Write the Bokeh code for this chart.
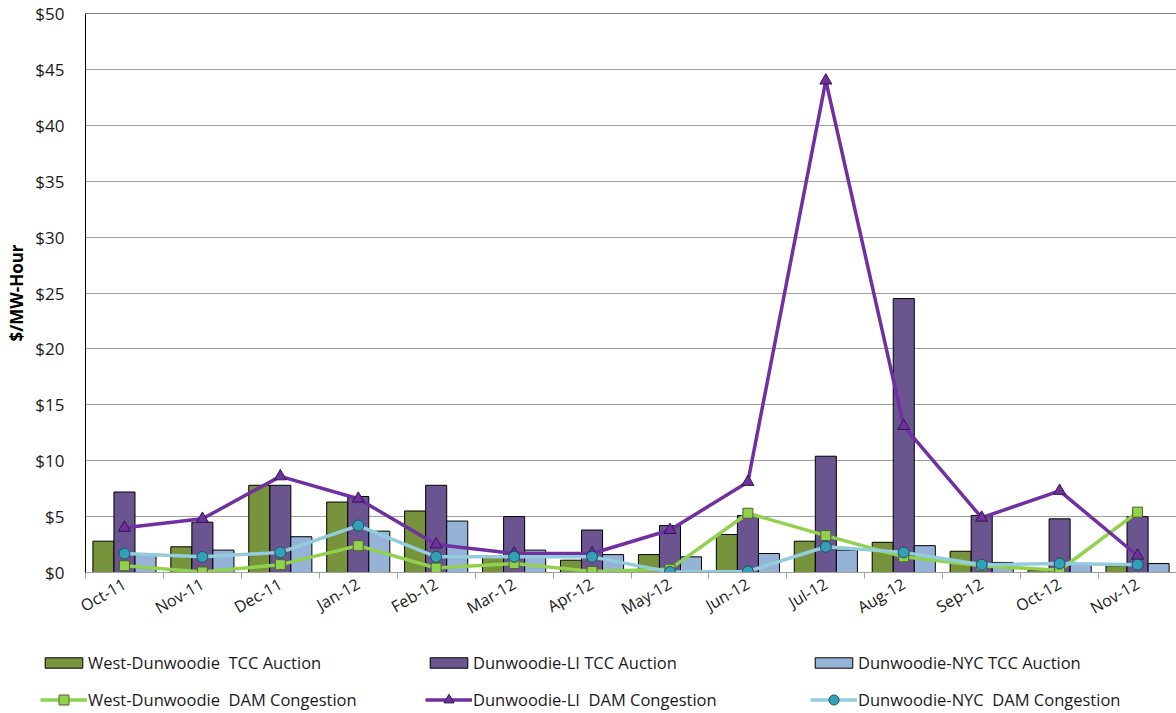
import math
import numpy as np
from bokeh.plotting import figure
from bokeh.models import (ColumnDataSource, FixedTicker, Legend, LegendItem,
                          Span, NumeralTickFormatter)
from bokeh.transform import dodge
from bokeh.embed import file_html
from bokeh.resources import INLINE

# ---- data ----
months = ["Oct-11", "Nov-11", "Dec-11", "Jan-12", "Feb-12", "Mar-12", "Apr-12",
          "May-12", "Jun-12", "Jul-12", "Aug-12", "Sep-12", "Oct-12", "Nov-12"]
west_tcc = [2.8, 2.3, 7.8, 6.3, 5.5, 1.5, 1.1, 1.6, 3.4, 2.8, 2.7, 1.9, 0.2, 0.6]
li_tcc = [7.2, 4.5, 7.8, 6.8, 7.8, 5.0, 3.8, 4.2, 5.1, 10.4, 24.5, 5.1, 4.8, 5.0]
nyc_tcc = [1.6, 2.0, 3.2, 3.7, 4.6, 2.0, 1.6, 1.4, 1.7, 2.0, 2.4, 0.9, 0.8, 0.8]
west_dam = [0.6, 0.05, 0.7, 2.4, 0.4, 0.8, 0.1, 0.3, 5.3, 3.3, 1.4, 0.6, 0.2, 5.4]
li_dam = [4.0, 4.8, 8.6, 6.6, 2.5, 1.7, 1.7, 3.8, 8.1, 44.0, 13.1, 4.9, 7.3, 1.5]
nyc_dam = [1.7, 1.4, 1.8, 4.2, 1.4, 1.4, 1.4, 0.05, 0.1, 2.3, 1.8, 0.7, 0.8, 0.7]
y_ticks = list(range(0, 51, 5))

bar_labels = ["West-Dunwoodie  TCC Auction", "Dunwoodie-LI TCC Auction",
              "Dunwoodie-NYC TCC Auction"]
line_labels = ["West-Dunwoodie  DAM Congestion", "Dunwoodie-LI  DAM Congestion",
               "Dunwoodie-NYC  DAM Congestion"]

x = np.arange(len(months)) + 0.5
src = ColumnDataSource(dict(x=x, west_tcc=west_tcc, li_tcc=li_tcc, nyc_tcc=nyc_tcc,
                            west_dam=west_dam, li_dam=li_dam, nyc_dam=nyc_dam))

FONT = "Open Sans"
C_GREEN_BAR, C_PURPLE_BAR, C_BLUE_BAR = "#77933C", "#6B5591", "#95B3D7"
C_GREEN_LINE, C_PURPLE_LINE, C_CYAN_LINE = "#92D050", "#7030A0", "#93CDDD"

FRAME_W = 1091
p = figure(frame_width=FRAME_W, frame_height=559,
           x_range=(0, FRAME_W / 77.93), y_range=(0, 50),
           output_backend="svg", toolbar_location=None,
           min_border_left=85, min_border_right=0, min_border_top=13,
           min_border_bottom=68)
p.outline_line_color = None
p.background_fill_color = "white"
p.border_fill_color = "white"

# grid
p.xgrid.grid_line_color = None
p.ygrid.grid_line_color = "#A0A0A0"
p.ygrid.grid_line_width = 1
p.add_layout(Span(location=50, dimension="width", line_color="black", line_width=1.2))

# y axis
p.yaxis.ticker = FixedTicker(ticks=y_ticks)
p.yaxis.formatter = NumeralTickFormatter(format="$0")
p.yaxis.major_tick_line_color = None
p.yaxis.major_tick_out = 0
p.yaxis.major_tick_in = 0
p.yaxis.minor_tick_line_color = None
p.yaxis.minor_tick_out = 0
p.yaxis.axis_line_color = "black"
p.yaxis.major_label_standoff = 21
p.yaxis.major_label_text_font = FONT
p.yaxis.major_label_text_font_size = "17px"
p.yaxis.major_label_text_color = "#1a1a1a"
p.yaxis.axis_label = "$/MW-Hour"
p.yaxis.axis_label_text_font = FONT
p.yaxis.axis_label_text_font_style = "bold"
p.yaxis.axis_label_text_font_size = "17px"
p.yaxis.axis_label_text_color = "black"
p.yaxis.axis_label_standoff = 4

# x axis
p.xaxis.ticker = FixedTicker(ticks=list(x), minor_ticks=list(range(len(months) + 1)))
p.xaxis.major_label_overrides = {float(v): m for v, m in zip(x, months)}
p.xaxis.major_tick_line_color = None
p.xaxis.major_tick_out = 0
p.xaxis.major_tick_in = 0
p.xaxis.minor_tick_line_color = "#A0A0A0"
p.xaxis.minor_tick_out = 6
p.xaxis.minor_tick_in = 0
p.xaxis.axis_line_color = "#A0A0A0"
p.xaxis.major_label_orientation = math.pi / 6
p.xaxis.major_label_standoff = 4
p.xaxis.major_label_text_font = FONT
p.xaxis.major_label_text_font_size = "16px"
p.xaxis.major_label_text_color = "#1a1a1a"

# bars
bw = 0.27
bar_specs = [("west_tcc", -bw, C_GREEN_BAR), ("li_tcc", 0, C_PURPLE_BAR),
             ("nyc_tcc", bw, C_BLUE_BAR)]
for col, off, color in bar_specs:
    p.vbar(x=dodge("x", off, range=p.x_range), top=col, width=bw, source=src,
           fill_color=color, line_color="black", line_width=1)

# lines
line_specs = [("west_dam", C_GREEN_LINE, "square", 10, C_GREEN_LINE, "#4F6228"),
              ("li_dam", C_PURPLE_LINE, "triangle", 12, C_PURPLE_LINE, "#2E1A47"),
              ("nyc_dam", C_CYAN_LINE, "circle", 11, "#31A0B8", "#1F4F5C")]
for col, lc, mk, sz, fc, ec in line_specs:
    p.line("x", col, source=src, line_color=lc, line_width=3.5)
    p.scatter("x", col, source=src, marker=mk, size=sz, fill_color=fc,
              line_color=ec, line_width=1)

# ---- legend panel (separate figure below the chart) ----
LG_H = 73
lg = figure(width=1176, height=LG_H, x_range=(0, 1), y_range=(0, 1),
            output_backend="svg", toolbar_location=None,
            x_axis_location=None, y_axis_location=None,
            min_border_left=0, min_border_right=0, min_border_top=0,
            min_border_bottom=0)
lg.outline_line_color = None
lg.xgrid.visible = False
lg.ygrid.visible = False
lg.background_fill_color = "white"
lg.border_fill_color = "white"
# swatch renderers kept outside the visible range; they only feed the legend
dummy = ColumnDataSource(dict(x=[-10], y=[-10]))
r_b = [lg.vbar(x="x", top="y", width=0.1, source=dummy, fill_color=c,
               line_color="black", line_width=1) for _, _, c in bar_specs]
r_l = []
for col, lc, mk, sz, fc, ec in line_specs:
    ln = lg.line("x", "y", source=dummy, line_color=lc, line_width=3.5)
    sc = lg.scatter("x", "y", source=dummy, marker=mk, size=sz, fill_color=fc,
                    line_color=ec, line_width=1)
    r_l.append([ln, sc])

common = dict(ncols=3, orientation="horizontal", glyph_width=47, label_standoff=1,
              label_width=322, label_height=18, spacing=15, padding=0, margin=0,
              border_line_color=None, background_fill_alpha=0,
              label_text_font=FONT, label_text_font_size="16.5px",
              label_text_color="#1a1a1a")

legend_bars = Legend(items=[LegendItem(label=l, renderers=[r])
                            for l, r in zip(bar_labels, r_b)],
                     location=(40, 39), glyph_height=13, **common)
legend_lines = Legend(items=[LegendItem(label=l, renderers=rs)
                             for l, rs in zip(line_labels, r_l)],
                      location=(40, 1), glyph_height=25, **common)
lg.add_layout(legend_bars)
lg.add_layout(legend_lines)

open("out.html", "w").write(file_html([p, lg], INLINE))
